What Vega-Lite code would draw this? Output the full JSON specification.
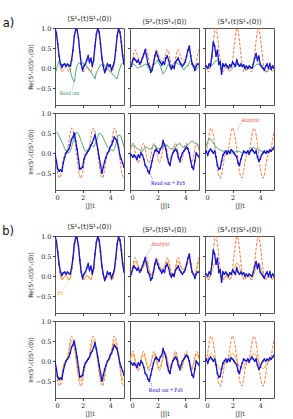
{
"$schema": "https://vega.github.io/schema/vega-lite/v6.json",
"background": "white",
"padding": {"left": 2, "top": 14, "right": 2, "bottom": 2},
"spacing": 12,
"config": {
 "font": "DejaVu Sans",
 "view": {"stroke": "#555", "strokeWidth": 1},
 "axis": {"grid": false, "domain": false, "labelFont": "DejaVu Serif", "labelFontSize": 6.5, "titleFontWeight": "normal", "tickSize": 2.5, "tickColor": "#444", "labelColor": "#222", "titleColor": "#222", "labelPadding": 1.5, "titlePadding": 2, "labelOverlap": false},
 "axisX": {"titleFont": "DejaVu Serif", "titleFontSize": 6.5},
 "axisY": {"titleFont": "DejaVu Sans", "titleFontSize": 6},
 "title": {"fontWeight": "normal", "fontSize": 11.5, "color": "#111"}
},
"datasets": {"d": [
{"r":1,"c":1,"t":0,"a":1,"g":-0.12,"f":0.95,"b":1},
{"r":1,"c":1,"t":0.1,"a":0.885,"g":-0.05,"f":0.84,"b":0.88},
{"r":1,"c":1,"t":0.2,"a":0.59,"g":0.1,"f":0.56,"b":0.6},
{"r":1,"c":1,"t":0.3,"a":0.252,"g":0.18,"f":0.24,"b":0.3},
{"r":1,"c":1,"t":0.4,"a":-0.001,"g":0.12,"f":0,"b":0.1},
{"r":1,"c":1,"t":0.5,"a":-0.098,"g":0.08,"f":-0.09,"b":0.02},
{"r":1,"c":1,"t":0.6,"a":-0.068,"g":0.1,"f":-0.06,"b":0.08},
{"r":1,"c":1,"t":0.7,"a":0.001,"g":0.12,"f":0,"b":0.1},
{"r":1,"c":1,"t":0.8,"a":0.02,"g":0.05,"f":0.02,"b":0.05},
{"r":1,"c":1,"t":0.9,"a":-0.031,"g":0.08,"f":-0.03,"b":0.1},
{"r":1,"c":1,"t":1.0,"a":-0.094,"g":0.02,"f":-0.09,"b":0.07},
{"r":1,"c":1,"t":1.1,"a":-0.069,"g":-0.05,"f":-0.07,"b":0.05},
{"r":1,"c":1,"t":1.2,"a":0.123,"g":-0.2,"f":0.12,"b":0.2},
{"r":1,"c":1,"t":1.3,"a":0.413,"g":-0.28,"f":0.39,"b":0.45},
{"r":1,"c":1,"t":1.4,"a":0.757,"g":-0.35,"f":0.72,"b":0.8},
{"r":1,"c":1,"t":1.5,"a":0.972,"g":-0.1,"f":0.92,"b":0.97},
{"r":1,"c":1,"t":1.6,"a":0.975,"g":0.07,"f":0.93,"b":0.95},
{"r":1,"c":1,"t":1.7,"a":0.754,"g":0.12,"f":0.72,"b":0.75},
{"r":1,"c":1,"t":1.8,"a":0.414,"g":0.13,"f":0.39,"b":0.4},
{"r":1,"c":1,"t":1.9,"a":0.121,"g":0.1,"f":0.11,"b":0.1},
{"r":1,"c":1,"t":2.0,"a":-0.069,"g":0.15,"f":-0.07,"b":-0.05},
{"r":1,"c":1,"t":2.1,"a":-0.094,"g":0.08,"f":-0.09,"b":0.05},
{"r":1,"c":1,"t":2.2,"a":-0.031,"g":0.1,"f":-0.03,"b":0.1},
{"r":1,"c":1,"t":2.3,"a":0.02,"g":0.05,"f":0.02,"b":0.2},
{"r":1,"c":1,"t":2.4,"a":0.001,"g":0,"f":0,"b":0.3},
{"r":1,"c":1,"t":2.5,"a":-0.068,"g":-0.05,"f":-0.06,"b":0.15},
{"r":1,"c":1,"t":2.6,"a":-0.098,"g":-0.1,"f":-0.09,"b":0.25},
{"r":1,"c":1,"t":2.7,"a":-0.001,"g":-0.15,"f":0,"b":0.05},
{"r":1,"c":1,"t":2.8,"a":0.252,"g":-0.2,"f":0.24,"b":0.2},
{"r":1,"c":1,"t":2.9,"a":0.59,"g":-0.27,"f":0.56,"b":0.55},
{"r":1,"c":1,"t":3.0,"a":0.885,"g":-0.1,"f":0.84,"b":0.85},
{"r":1,"c":1,"t":3.1,"a":1,"g":-0.05,"f":0.95,"b":0.98},
{"r":1,"c":1,"t":3.2,"a":0.885,"g":0.02,"f":0.84,"b":0.9},
{"r":1,"c":1,"t":3.3,"a":0.59,"g":0.08,"f":0.56,"b":0.6},
{"r":1,"c":1,"t":3.4,"a":0.252,"g":0.1,"f":0.24,"b":0.25},
{"r":1,"c":1,"t":3.5,"a":-0.001,"g":0.05,"f":0,"b":0.05},
{"r":1,"c":1,"t":3.6,"a":-0.098,"g":0.08,"f":-0.09,"b":-0.1},
{"r":1,"c":1,"t":3.7,"a":-0.068,"g":0,"f":-0.06,"b":-0.02},
{"r":1,"c":1,"t":3.8,"a":0.001,"g":-0.02,"f":0,"b":0.1},
{"r":1,"c":1,"t":3.9,"a":0.02,"g":-0.05,"f":0.02,"b":0.05},
{"r":1,"c":1,"t":4.0,"a":-0.031,"g":-0.1,"f":-0.03,"b":0.08},
{"r":1,"c":1,"t":4.1,"a":-0.094,"g":-0.13,"f":-0.09,"b":-0.05},
{"r":1,"c":1,"t":4.2,"a":-0.069,"g":-0.15,"f":-0.07,"b":0.05},
{"r":1,"c":1,"t":4.3,"a":0.123,"g":-0.2,"f":0.12,"b":0.15},
{"r":1,"c":1,"t":4.4,"a":0.413,"g":-0.25,"f":0.39,"b":0.45},
{"r":1,"c":1,"t":4.5,"a":0.757,"g":-0.27,"f":0.72,"b":0.8},
{"r":1,"c":1,"t":4.6,"a":0.972,"g":-0.12,"f":0.92,"b":0.98},
{"r":1,"c":1,"t":4.7,"a":0.975,"g":0,"f":0.93,"b":0.9},
{"r":1,"c":1,"t":4.8,"a":0.754,"g":0.08,"f":0.72,"b":0.65},
{"r":1,"c":1,"t":4.9,"a":0.414,"g":0.13,"f":0.39,"b":0.3},
{"r":1,"c":1,"t":5.0,"a":0.121,"g":0.12,"f":0.11,"b":0.1},
{"r":1,"c":2,"t":0,"a":0,"g":0.05,"f":0.02,"b":0},
{"r":1,"c":2,"t":0.1,"a":0.06,"g":0.08,"f":0.07,"b":0.05},
{"r":1,"c":2,"t":0.2,"a":0.22,"g":0.1,"f":0.19,"b":0.2},
{"r":1,"c":2,"t":0.3,"a":0.42,"g":0.1,"f":0.34,"b":0.25},
{"r":1,"c":2,"t":0.4,"a":0.46,"g":0.05,"f":0.37,"b":0.2},
{"r":1,"c":2,"t":0.5,"a":0.36,"g":0.02,"f":0.29,"b":0.15},
{"r":1,"c":2,"t":0.6,"a":0.25,"g":0,"f":0.21,"b":0.2},
{"r":1,"c":2,"t":0.7,"a":0.19,"g":0.03,"f":0.16,"b":0.1},
{"r":1,"c":2,"t":0.8,"a":0.18,"g":0.05,"f":0.16,"b":0.15},
{"r":1,"c":2,"t":0.9,"a":0.21,"g":0.05,"f":0.18,"b":0.25},
{"r":1,"c":2,"t":1.0,"a":0.3,"g":0.08,"f":0.25,"b":0.35},
{"r":1,"c":2,"t":1.1,"a":0.42,"g":0.1,"f":0.34,"b":0.45},
{"r":1,"c":2,"t":1.2,"a":0.47,"g":0.1,"f":0.37,"b":0.3},
{"r":1,"c":2,"t":1.3,"a":0.33,"g":0.02,"f":0.27,"b":0.1},
{"r":1,"c":2,"t":1.4,"a":0.13,"g":-0.03,"f":0.12,"b":0.05},
{"r":1,"c":2,"t":1.5,"a":0.02,"g":-0.05,"f":0.04,"b":-0.1},
{"r":1,"c":2,"t":1.6,"a":0.02,"g":0.02,"f":0.04,"b":-0.05},
{"r":1,"c":2,"t":1.7,"a":0.13,"g":0.1,"f":0.12,"b":0.1},
{"r":1,"c":2,"t":1.8,"a":0.33,"g":0.1,"f":0.27,"b":0.3},
{"r":1,"c":2,"t":1.9,"a":0.47,"g":0.15,"f":0.37,"b":0.4},
{"r":1,"c":2,"t":2.0,"a":0.42,"g":0.2,"f":0.34,"b":0.3},
{"r":1,"c":2,"t":2.1,"a":0.3,"g":0.12,"f":0.25,"b":0.2},
{"r":1,"c":2,"t":2.2,"a":0.21,"g":0.05,"f":0.18,"b":0.15},
{"r":1,"c":2,"t":2.3,"a":0.185,"g":-0.05,"f":0.16,"b":0.08},
{"r":1,"c":2,"t":2.4,"a":0.19,"g":-0.15,"f":0.16,"b":0.15},
{"r":1,"c":2,"t":2.5,"a":0.25,"g":-0.1,"f":0.21,"b":0.1},
{"r":1,"c":2,"t":2.6,"a":0.36,"g":-0.05,"f":0.29,"b":0.25},
{"r":1,"c":2,"t":2.7,"a":0.46,"g":0.05,"f":0.37,"b":0.3},
{"r":1,"c":2,"t":2.8,"a":0.42,"g":0.1,"f":0.34,"b":0.2},
{"r":1,"c":2,"t":2.9,"a":0.22,"g":0.08,"f":0.19,"b":0.05},
{"r":1,"c":2,"t":3.0,"a":0.06,"g":0.05,"f":0.07,"b":-0.02},
{"r":1,"c":2,"t":3.1,"a":0,"g":0.1,"f":0.02,"b":0.05},
{"r":1,"c":2,"t":3.2,"a":0.06,"g":0.12,"f":0.07,"b":0},
{"r":1,"c":2,"t":3.3,"a":0.22,"g":0.15,"f":0.19,"b":0.15},
{"r":1,"c":2,"t":3.4,"a":0.42,"g":0.12,"f":0.34,"b":0.2},
{"r":1,"c":2,"t":3.5,"a":0.46,"g":0.1,"f":0.37,"b":0.25},
{"r":1,"c":2,"t":3.6,"a":0.36,"g":0.1,"f":0.29,"b":0.15},
{"r":1,"c":2,"t":3.7,"a":0.25,"g":0.05,"f":0.21,"b":0.1},
{"r":1,"c":2,"t":3.8,"a":0.19,"g":0,"f":0.16,"b":0.05},
{"r":1,"c":2,"t":3.9,"a":0.18,"g":-0.05,"f":0.16,"b":0.1},
{"r":1,"c":2,"t":4.0,"a":0.21,"g":0,"f":0.18,"b":0.15},
{"r":1,"c":2,"t":4.1,"a":0.3,"g":0.05,"f":0.25,"b":0.3},
{"r":1,"c":2,"t":4.2,"a":0.42,"g":0.05,"f":0.34,"b":0.45},
{"r":1,"c":2,"t":4.3,"a":0.47,"g":0.15,"f":0.37,"b":0.55},
{"r":1,"c":2,"t":4.4,"a":0.33,"g":0.2,"f":0.27,"b":0.3},
{"r":1,"c":2,"t":4.5,"a":0.13,"g":0.15,"f":0.12,"b":0.1},
{"r":1,"c":2,"t":4.6,"a":0.02,"g":0.1,"f":0.04,"b":0.05},
{"r":1,"c":2,"t":4.7,"a":0.02,"g":0.02,"f":0.04,"b":-0.05},
{"r":1,"c":2,"t":4.8,"a":0.13,"g":-0.05,"f":0.12,"b":0.05},
{"r":1,"c":2,"t":4.9,"a":0.33,"g":0,"f":0.27,"b":0.1},
{"r":1,"c":2,"t":5.0,"a":0.47,"g":0.05,"f":0.37,"b":0.1},
{"r":1,"c":3,"t":0,"a":0.022,"g":0,"f":-0.01,"b":0.05},
{"r":1,"c":3,"t":0.1,"a":-0.014,"g":0.02,"f":-0.02,"b":0.05},
{"r":1,"c":3,"t":0.2,"a":-0.082,"g":0,"f":-0.05,"b":0},
{"r":1,"c":3,"t":0.3,"a":-0.089,"g":0,"f":-0.05,"b":0.1},
{"r":1,"c":3,"t":0.4,"a":0.048,"g":0.05,"f":0,"b":0.05},
{"r":1,"c":3,"t":0.5,"a":0.332,"g":0.08,"f":0.1,"b":0.3},
{"r":1,"c":3,"t":0.6,"a":0.675,"g":0.1,"f":0.22,"b":0.65},
{"r":1,"c":3,"t":0.7,"a":0.934,"g":0.15,"f":0.31,"b":0.55},
{"r":1,"c":3,"t":0.8,"a":0.993,"g":0.2,"f":0.33,"b":0.3},
{"r":1,"c":3,"t":0.9,"a":0.823,"g":0.18,"f":0.27,"b":0.45},
{"r":1,"c":3,"t":1.0,"a":0.504,"g":0.15,"f":0.16,"b":0.1},
{"r":1,"c":3,"t":1.1,"a":0.174,"g":0.1,"f":0.04,"b":0.15},
{"r":1,"c":3,"t":1.2,"a":-0.041,"g":0.05,"f":-0.03,"b":-0.15},
{"r":1,"c":3,"t":1.3,"a":-0.1,"g":0.05,"f":-0.06,"b":0.1},
{"r":1,"c":3,"t":1.4,"a":-0.05,"g":0.03,"f":-0.04,"b":0.05},
{"r":1,"c":3,"t":1.5,"a":0.013,"g":0.05,"f":-0.02,"b":0.1},
{"r":1,"c":3,"t":1.6,"a":0.012,"g":0.03,"f":-0.02,"b":0.05},
{"r":1,"c":3,"t":1.7,"a":-0.05,"g":0.02,"f":-0.04,"b":0},
{"r":1,"c":3,"t":1.8,"a":-0.1,"g":0,"f":-0.06,"b":0.08},
{"r":1,"c":3,"t":1.9,"a":-0.04,"g":0.02,"f":-0.03,"b":0.05},
{"r":1,"c":3,"t":2.0,"a":0.175,"g":0,"f":0.04,"b":0.15},
{"r":1,"c":3,"t":2.1,"a":0.505,"g":0.03,"f":0.16,"b":0.1},
{"r":1,"c":3,"t":2.2,"a":0.823,"g":0.05,"f":0.27,"b":0.05},
{"r":1,"c":3,"t":2.3,"a":0.993,"g":0.08,"f":0.33,"b":0.2},
{"r":1,"c":3,"t":2.4,"a":0.934,"g":0.1,"f":0.31,"b":0.1},
{"r":1,"c":3,"t":2.5,"a":0.675,"g":0.08,"f":0.22,"b":0.05},
{"r":1,"c":3,"t":2.6,"a":0.332,"g":0.05,"f":0.1,"b":0.1},
{"r":1,"c":3,"t":2.7,"a":0.048,"g":0.05,"f":0,"b":0.05},
{"r":1,"c":3,"t":2.8,"a":-0.089,"g":0.02,"f":-0.05,"b":0.08},
{"r":1,"c":3,"t":2.9,"a":-0.082,"g":-0.02,"f":-0.05,"b":0},
{"r":1,"c":3,"t":3.0,"a":-0.014,"g":-0.05,"f":-0.02,"b":0.05},
{"r":1,"c":3,"t":3.1,"a":0.022,"g":-0.03,"f":-0.01,"b":0},
{"r":1,"c":3,"t":3.2,"a":-0.014,"g":0,"f":-0.02,"b":0.05},
{"r":1,"c":3,"t":3.3,"a":-0.082,"g":0,"f":-0.05,"b":0.02},
{"r":1,"c":3,"t":3.4,"a":-0.089,"g":0.02,"f":-0.05,"b":0},
{"r":1,"c":3,"t":3.5,"a":0.048,"g":0.03,"f":0,"b":0.1},
{"r":1,"c":3,"t":3.6,"a":0.332,"g":0.05,"f":0.1,"b":0.25},
{"r":1,"c":3,"t":3.7,"a":0.675,"g":0.08,"f":0.22,"b":0.35},
{"r":1,"c":3,"t":3.8,"a":0.934,"g":0.1,"f":0.31,"b":0.2},
{"r":1,"c":3,"t":3.9,"a":0.993,"g":0.1,"f":0.33,"b":0.3},
{"r":1,"c":3,"t":4.0,"a":0.823,"g":0.05,"f":0.27,"b":0.1},
{"r":1,"c":3,"t":4.1,"a":0.504,"g":0.02,"f":0.16,"b":0.05},
{"r":1,"c":3,"t":4.2,"a":0.174,"g":-0.02,"f":0.04,"b":0},
{"r":1,"c":3,"t":4.3,"a":-0.041,"g":-0.05,"f":-0.03,"b":-0.05},
{"r":1,"c":3,"t":4.4,"a":-0.1,"g":-0.08,"f":-0.06,"b":0.05},
{"r":1,"c":3,"t":4.5,"a":-0.05,"g":-0.1,"f":-0.04,"b":0.1},
{"r":1,"c":3,"t":4.6,"a":0.013,"g":-0.06,"f":-0.02,"b":0},
{"r":1,"c":3,"t":4.7,"a":0.012,"g":-0.03,"f":-0.02,"b":0.1},
{"r":1,"c":3,"t":4.8,"a":-0.05,"g":0,"f":-0.04,"b":-0.02},
{"r":1,"c":3,"t":4.9,"a":-0.1,"g":0,"f":-0.06,"b":0.05},
{"r":1,"c":3,"t":5.0,"a":-0.04,"g":0,"f":-0.03,"b":0},
{"r":2,"c":1,"t":0,"a":0,"g":0.55,"f":0,"b":0},
{"r":2,"c":1,"t":0.1,"a":-0.3,"g":0.53,"f":-0.24,"b":-0.2},
{"r":2,"c":1,"t":0.2,"a":-0.52,"g":0.5,"f":-0.42,"b":-0.4},
{"r":2,"c":1,"t":0.3,"a":-0.62,"g":0.42,"f":-0.5,"b":-0.45},
{"r":2,"c":1,"t":0.4,"a":-0.6,"g":0.35,"f":-0.48,"b":-0.42},
{"r":2,"c":1,"t":0.5,"a":-0.4,"g":0.28,"f":-0.32,"b":-0.45},
{"r":2,"c":1,"t":0.6,"a":-0.15,"g":0.2,"f":-0.12,"b":-0.25},
{"r":2,"c":1,"t":0.7,"a":-0.03,"g":0.12,"f":-0.02,"b":-0.1},
{"r":2,"c":1,"t":0.8,"a":0.015,"g":0.05,"f":0.01,"b":0},
{"r":2,"c":1,"t":0.9,"a":0.09,"g":0.02,"f":0.07,"b":0.05},
{"r":2,"c":1,"t":1.0,"a":0.27,"g":0,"f":0.22,"b":0.1},
{"r":2,"c":1,"t":1.1,"a":0.5,"g":0.05,"f":0.4,"b":0.2},
{"r":2,"c":1,"t":1.2,"a":0.63,"g":0.15,"f":0.5,"b":0.35},
{"r":2,"c":1,"t":1.3,"a":0.58,"g":0.28,"f":0.46,"b":0.4},
{"r":2,"c":1,"t":1.4,"a":0.42,"g":0.4,"f":0.34,"b":0.5},
{"r":2,"c":1,"t":1.5,"a":0.15,"g":0.5,"f":0.12,"b":0.3},
{"r":2,"c":1,"t":1.6,"a":-0.15,"g":0.52,"f":-0.12,"b":0.1},
{"r":2,"c":1,"t":1.7,"a":-0.42,"g":0.48,"f":-0.34,"b":-0.15},
{"r":2,"c":1,"t":1.8,"a":-0.58,"g":0.4,"f":-0.46,"b":-0.4},
{"r":2,"c":1,"t":1.9,"a":-0.63,"g":0.3,"f":-0.5,"b":-0.38},
{"r":2,"c":1,"t":2.0,"a":-0.5,"g":0.2,"f":-0.4,"b":-0.35},
{"r":2,"c":1,"t":2.1,"a":-0.27,"g":0.1,"f":-0.22,"b":-0.15},
{"r":2,"c":1,"t":2.2,"a":-0.09,"g":0.05,"f":-0.07,"b":-0.05},
{"r":2,"c":1,"t":2.3,"a":-0.015,"g":0.05,"f":-0.01,"b":0},
{"r":2,"c":1,"t":2.4,"a":0.03,"g":0.1,"f":0.02,"b":0.05},
{"r":2,"c":1,"t":2.5,"a":0.15,"g":0.15,"f":0.12,"b":0.1},
{"r":2,"c":1,"t":2.6,"a":0.4,"g":0.2,"f":0.32,"b":0.2},
{"r":2,"c":1,"t":2.7,"a":0.6,"g":0.18,"f":0.48,"b":0.25},
{"r":2,"c":1,"t":2.8,"a":0.62,"g":0.15,"f":0.5,"b":0.35},
{"r":2,"c":1,"t":2.9,"a":0.52,"g":0.22,"f":0.42,"b":0.45},
{"r":2,"c":1,"t":3.0,"a":0.3,"g":0.3,"f":0.24,"b":0.3},
{"r":2,"c":1,"t":3.1,"a":0,"g":0.4,"f":0,"b":0.1},
{"r":2,"c":1,"t":3.2,"a":-0.3,"g":0.5,"f":-0.24,"b":-0.1},
{"r":2,"c":1,"t":3.3,"a":-0.52,"g":0.48,"f":-0.42,"b":-0.3},
{"r":2,"c":1,"t":3.4,"a":-0.62,"g":0.45,"f":-0.5,"b":-0.5},
{"r":2,"c":1,"t":3.5,"a":-0.6,"g":0.38,"f":-0.48,"b":-0.35},
{"r":2,"c":1,"t":3.6,"a":-0.4,"g":0.3,"f":-0.32,"b":-0.2},
{"r":2,"c":1,"t":3.7,"a":-0.15,"g":0.22,"f":-0.12,"b":-0.1},
{"r":2,"c":1,"t":3.8,"a":-0.03,"g":0.15,"f":-0.02,"b":0},
{"r":2,"c":1,"t":3.9,"a":0.015,"g":0.12,"f":0.01,"b":0.05},
{"r":2,"c":1,"t":4.0,"a":0.09,"g":0.1,"f":0.07,"b":0.15},
{"r":2,"c":1,"t":4.1,"a":0.27,"g":0.08,"f":0.22,"b":0.2},
{"r":2,"c":1,"t":4.2,"a":0.5,"g":0.05,"f":0.4,"b":0.3},
{"r":2,"c":1,"t":4.3,"a":0.63,"g":0.1,"f":0.5,"b":0.4},
{"r":2,"c":1,"t":4.4,"a":0.58,"g":0.2,"f":0.46,"b":0.35},
{"r":2,"c":1,"t":4.5,"a":0.42,"g":0.35,"f":0.34,"b":0.3},
{"r":2,"c":1,"t":4.6,"a":0.15,"g":0.45,"f":0.12,"b":0.15},
{"r":2,"c":1,"t":4.7,"a":-0.15,"g":0.45,"f":-0.12,"b":-0.05},
{"r":2,"c":1,"t":4.8,"a":-0.42,"g":0.4,"f":-0.34,"b":-0.15},
{"r":2,"c":1,"t":4.9,"a":-0.58,"g":0.28,"f":-0.46,"b":-0.25},
{"r":2,"c":1,"t":5.0,"a":-0.63,"g":0.15,"f":-0.5,"b":-0.35},
{"r":2,"c":2,"t":0,"a":0,"g":0.15,"f":0,"b":0},
{"r":2,"c":2,"t":0.1,"a":0.181,"g":0.18,"f":0.13,"b":-0.05},
{"r":2,"c":2,"t":0.2,"a":0.25,"g":0.2,"f":0.18,"b":-0.1},
{"r":2,"c":2,"t":0.3,"a":0.163,"g":0.2,"f":0.11,"b":-0.05},
{"r":2,"c":2,"t":0.4,"a":-0.025,"g":0.15,"f":-0.02,"b":-0.1},
{"r":2,"c":2,"t":0.5,"a":-0.197,"g":0.12,"f":-0.14,"b":-0.15},
{"r":2,"c":2,"t":0.6,"a":-0.247,"g":0.1,"f":-0.17,"b":-0.05},
{"r":2,"c":2,"t":0.7,"a":-0.143,"g":0.08,"f":-0.1,"b":-0.1},
{"r":2,"c":2,"t":0.8,"a":0.05,"g":0.05,"f":0.04,"b":0},
{"r":2,"c":2,"t":0.9,"a":0.212,"g":0.05,"f":0.15,"b":-0.05},
{"r":2,"c":2,"t":1.0,"a":0.242,"g":0.1,"f":0.17,"b":-0.15},
{"r":2,"c":2,"t":1.1,"a":0.121,"g":0.12,"f":0.08,"b":-0.3},
{"r":2,"c":2,"t":1.2,"a":-0.075,"g":0.15,"f":-0.05,"b":-0.35},
{"r":2,"c":2,"t":1.3,"a":-0.225,"g":0.12,"f":-0.16,"b":-0.45},
{"r":2,"c":2,"t":1.4,"a":-0.235,"g":0.1,"f":-0.16,"b":-0.5},
{"r":2,"c":2,"t":1.5,"a":-0.098,"g":0.1,"f":-0.07,"b":-0.35},
{"r":2,"c":2,"t":1.6,"a":0.099,"g":0.15,"f":0.07,"b":-0.2},
{"r":2,"c":2,"t":1.7,"a":0.235,"g":0.18,"f":0.16,"b":-0.05},
{"r":2,"c":2,"t":1.8,"a":0.224,"g":0.2,"f":0.16,"b":0.05},
{"r":2,"c":2,"t":1.9,"a":0.075,"g":0.15,"f":0.05,"b":0.1},
{"r":2,"c":2,"t":2.0,"a":-0.122,"g":0.12,"f":-0.09,"b":0.05},
{"r":2,"c":2,"t":2.1,"a":-0.242,"g":0.1,"f":-0.17,"b":0},
{"r":2,"c":2,"t":2.2,"a":-0.212,"g":0.12,"f":-0.15,"b":0.1},
{"r":2,"c":2,"t":2.3,"a":-0.05,"g":0.15,"f":-0.04,"b":0.15},
{"r":2,"c":2,"t":2.4,"a":0.143,"g":0.15,"f":0.1,"b":0.3},
{"r":2,"c":2,"t":2.5,"a":0.247,"g":0.18,"f":0.17,"b":0.2},
{"r":2,"c":2,"t":2.6,"a":0.197,"g":0.2,"f":0.14,"b":0.1},
{"r":2,"c":2,"t":2.7,"a":0.025,"g":0.2,"f":0.02,"b":-0.1},
{"r":2,"c":2,"t":2.8,"a":-0.163,"g":0.15,"f":-0.11,"b":-0.25},
{"r":2,"c":2,"t":2.9,"a":-0.25,"g":0.12,"f":-0.18,"b":-0.3},
{"r":2,"c":2,"t":3.0,"a":-0.181,"g":0.1,"f":-0.13,"b":-0.1},
{"r":2,"c":2,"t":3.1,"a":0,"g":0.12,"f":0,"b":0},
{"r":2,"c":2,"t":3.2,"a":0.181,"g":0.15,"f":0.13,"b":0.05},
{"r":2,"c":2,"t":3.3,"a":0.25,"g":0.15,"f":0.18,"b":0.1},
{"r":2,"c":2,"t":3.4,"a":0.163,"g":0.2,"f":0.11,"b":0.05},
{"r":2,"c":2,"t":3.5,"a":-0.025,"g":0.22,"f":-0.02,"b":-0.1},
{"r":2,"c":2,"t":3.6,"a":-0.197,"g":0.25,"f":-0.14,"b":-0.2},
{"r":2,"c":2,"t":3.7,"a":-0.247,"g":0.2,"f":-0.17,"b":-0.1},
{"r":2,"c":2,"t":3.8,"a":-0.143,"g":0.15,"f":-0.1,"b":0},
{"r":2,"c":2,"t":3.9,"a":0.05,"g":0.15,"f":0.04,"b":0.05},
{"r":2,"c":2,"t":4.0,"a":0.212,"g":0.18,"f":0.15,"b":0.1},
{"r":2,"c":2,"t":4.1,"a":0.242,"g":0.2,"f":0.17,"b":0.15},
{"r":2,"c":2,"t":4.2,"a":0.121,"g":0.2,"f":0.08,"b":0.1},
{"r":2,"c":2,"t":4.3,"a":-0.075,"g":0.25,"f":-0.05,"b":0},
{"r":2,"c":2,"t":4.4,"a":-0.225,"g":0.28,"f":-0.16,"b":-0.2},
{"r":2,"c":2,"t":4.5,"a":-0.235,"g":0.3,"f":-0.16,"b":-0.35},
{"r":2,"c":2,"t":4.6,"a":-0.098,"g":0.28,"f":-0.07,"b":-0.4},
{"r":2,"c":2,"t":4.7,"a":0.099,"g":0.25,"f":0.07,"b":-0.2},
{"r":2,"c":2,"t":4.8,"a":0.235,"g":0.25,"f":0.16,"b":0},
{"r":2,"c":2,"t":4.9,"a":0.224,"g":0.2,"f":0.16,"b":-0.05},
{"r":2,"c":2,"t":5.0,"a":0.075,"g":0.15,"f":0.05,"b":-0.1},
{"r":2,"c":3,"t":0,"a":0,"g":0.1,"f":0,"b":0},
{"r":2,"c":3,"t":0.1,"a":0.06,"g":0.2,"f":0.02,"b":0.05},
{"r":2,"c":3,"t":0.2,"a":0.21,"g":0.3,"f":0.06,"b":-0.05},
{"r":2,"c":3,"t":0.3,"a":0.45,"g":0.35,"f":0.14,"b":0.05},
{"r":2,"c":3,"t":0.4,"a":0.62,"g":0.35,"f":0.19,"b":0.1},
{"r":2,"c":3,"t":0.5,"a":0.6,"g":0.3,"f":0.18,"b":0.05},
{"r":2,"c":3,"t":0.6,"a":0.47,"g":0.25,"f":0.14,"b":0},
{"r":2,"c":3,"t":0.7,"a":0.22,"g":0.2,"f":0.07,"b":0.05},
{"r":2,"c":3,"t":0.8,"a":-0.08,"g":0.15,"f":-0.02,"b":-0.1},
{"r":2,"c":3,"t":0.9,"a":-0.36,"g":0.12,"f":-0.11,"b":-0.3},
{"r":2,"c":3,"t":1.0,"a":-0.55,"g":0.1,"f":-0.17,"b":-0.4},
{"r":2,"c":3,"t":1.1,"a":-0.63,"g":0.08,"f":-0.19,"b":-0.38},
{"r":2,"c":3,"t":1.2,"a":-0.55,"g":0.06,"f":-0.17,"b":-0.2},
{"r":2,"c":3,"t":1.3,"a":-0.33,"g":0.05,"f":-0.1,"b":-0.05},
{"r":2,"c":3,"t":1.4,"a":-0.12,"g":0.05,"f":-0.04,"b":0},
{"r":2,"c":3,"t":1.5,"a":-0.02,"g":0.05,"f":-0.01,"b":0.05},
{"r":2,"c":3,"t":1.6,"a":0.02,"g":0.05,"f":0.01,"b":-0.02},
{"r":2,"c":3,"t":1.7,"a":0.12,"g":0.04,"f":0.04,"b":0.05},
{"r":2,"c":3,"t":1.8,"a":0.33,"g":0.02,"f":0.1,"b":0},
{"r":2,"c":3,"t":1.9,"a":0.55,"g":0,"f":0.17,"b":0.08},
{"r":2,"c":3,"t":2.0,"a":0.63,"g":0,"f":0.19,"b":0.05},
{"r":2,"c":3,"t":2.1,"a":0.55,"g":0.02,"f":0.17,"b":0},
{"r":2,"c":3,"t":2.2,"a":0.36,"g":0.03,"f":0.11,"b":-0.05},
{"r":2,"c":3,"t":2.3,"a":0.08,"g":0.05,"f":0.02,"b":-0.1},
{"r":2,"c":3,"t":2.4,"a":-0.22,"g":0.05,"f":-0.07,"b":-0.25},
{"r":2,"c":3,"t":2.5,"a":-0.47,"g":0.04,"f":-0.14,"b":-0.3},
{"r":2,"c":3,"t":2.6,"a":-0.6,"g":0.02,"f":-0.18,"b":-0.15},
{"r":2,"c":3,"t":2.7,"a":-0.62,"g":0,"f":-0.19,"b":-0.05},
{"r":2,"c":3,"t":2.8,"a":-0.45,"g":0,"f":-0.14,"b":0.05},
{"r":2,"c":3,"t":2.9,"a":-0.21,"g":0.02,"f":-0.06,"b":0.02},
{"r":2,"c":3,"t":3.0,"a":-0.06,"g":0.03,"f":-0.02,"b":0},
{"r":2,"c":3,"t":3.1,"a":0,"g":0.05,"f":0,"b":0.05},
{"r":2,"c":3,"t":3.2,"a":0.06,"g":0.05,"f":0.02,"b":-0.02},
{"r":2,"c":3,"t":3.3,"a":0.21,"g":0.08,"f":0.06,"b":0.05},
{"r":2,"c":3,"t":3.4,"a":0.45,"g":0.12,"f":0.14,"b":0.1},
{"r":2,"c":3,"t":3.5,"a":0.62,"g":0.15,"f":0.19,"b":0.05},
{"r":2,"c":3,"t":3.6,"a":0.6,"g":0.12,"f":0.18,"b":0},
{"r":2,"c":3,"t":3.7,"a":0.47,"g":0.1,"f":0.14,"b":0.05},
{"r":2,"c":3,"t":3.8,"a":0.22,"g":0.1,"f":0.07,"b":-0.1},
{"r":2,"c":3,"t":3.9,"a":-0.08,"g":0.08,"f":-0.02,"b":-0.2},
{"r":2,"c":3,"t":4.0,"a":-0.36,"g":0.06,"f":-0.11,"b":-0.15},
{"r":2,"c":3,"t":4.1,"a":-0.55,"g":0.05,"f":-0.17,"b":-0.05},
{"r":2,"c":3,"t":4.2,"a":-0.63,"g":0.03,"f":-0.19,"b":0},
{"r":2,"c":3,"t":4.3,"a":-0.55,"g":0.02,"f":-0.17,"b":0.05},
{"r":2,"c":3,"t":4.4,"a":-0.33,"g":0,"f":-0.1,"b":0},
{"r":2,"c":3,"t":4.5,"a":-0.12,"g":0,"f":-0.04,"b":0.05},
{"r":2,"c":3,"t":4.6,"a":-0.02,"g":0.02,"f":-0.01,"b":0.02},
{"r":2,"c":3,"t":4.7,"a":0.02,"g":0.05,"f":0.01,"b":0.08},
{"r":2,"c":3,"t":4.8,"a":0.12,"g":0.06,"f":0.04,"b":0.05},
{"r":2,"c":3,"t":4.9,"a":0.33,"g":0.08,"f":0.1,"b":0.1},
{"r":2,"c":3,"t":5.0,"a":0.55,"g":0.1,"f":0.17,"b":0.15},
{"grp":"A","r":1,"c":1,"t":1.05,"v":-0.62,"lab":"Read out","k":"g"},
{"grp":"A","r":1,"c":1,"t":1.25,"v":-0.53,"ar":1,"k":"g"},
{"grp":"A","r":1,"c":1,"t":1.37,"v":-0.37,"ar":1,"k":"g"},
{"grp":"A","r":2,"c":3,"t":3.3,"v":0.83,"lab":"Analytic","k":"ar"},
{"grp":"A","r":2,"c":3,"t":2.65,"v":0.76,"ar":1,"k":"ar"},
{"grp":"A","r":2,"c":3,"t":2.35,"v":0.6,"ar":1,"k":"ar"},
{"grp":"A","r":2,"c":2,"t":2.75,"v":-0.74,"lab":"Read out + PaS","k":"b"},
{"grp":"A","r":2,"c":2,"t":1.65,"v":-0.66,"ar":1,"k":"b"},
{"grp":"A","r":2,"c":2,"t":1.46,"v":-0.52,"ar":1,"k":"b"},
{"grp":"B","r":1,"c":1,"t":0.4,"v":-0.41,"lab":"Fit","k":"f"},
{"grp":"B","r":1,"c":1,"t":0.62,"v":-0.33,"ar":1,"k":"f"},
{"grp":"B","r":1,"c":1,"t":1.0,"v":-0.15,"ar":1,"k":"f"},
{"grp":"B","r":1,"c":2,"t":2.2,"v":0.8,"lab":"Analytic","k":"ar"},
{"grp":"B","r":1,"c":2,"t":1.55,"v":0.72,"ar":1,"k":"ar"},
{"grp":"B","r":1,"c":2,"t":1.18,"v":0.5,"ar":1,"k":"ar"},
{"grp":"B","r":2,"c":2,"t":2.6,"v":-0.73,"lab":"Read out + PaS","k":"b"},
{"grp":"B","r":2,"c":2,"t":1.6,"v":-0.64,"ar":1,"k":"b"},
{"grp":"B","r":2,"c":2,"t":1.46,"v":-0.5,"ar":1,"k":"b"}
]},
"vconcat": [
{
 "title": {"text": "a)", "orient": "left", "anchor": "end", "angle": 0, "align": "right", "baseline": "top", "frame": "bounds", "offset": 1, "dy": 3},
 "spacing": 0,
 "vconcat": [
  {"spacing": 1, "hconcat": [
   {"width": 69, "height": 77, "title": {"text": "⟨S¹ₓ(t)S¹ₓ(0)⟩", "fontSize": 7, "offset": 3, "color": "#222"},
    "data": {"name": "d"}, "transform": [{"filter": "datum.r == 1 && datum.c == 1"}],
    "encoding": {"x": {"field": "t", "type": "quantitative", "scale": {"domain": [0, 5], "nice": false}, "axis": {"values": [0, 2, 4], "labels": false, "title": null}},
                 "y": {"field": "v", "type": "quantitative", "scale": {"domain": [-0.92, 1], "nice": false}, "axis": {"values": [-0.5, 0, 0.5, 1], "format": ".1f", "title": "Re⟨S¹ₓ(t)S¹ₓ(0)⟩"}}},
    "layer": [
     {"transform": [{"filter": "datum.lab == null && datum.ar == null"}, {"fold": ["a", "g"], "as": ["s", "v"]}, {"filter": "isValid(datum.v)"}], "mark": {"type": "line", "strokeWidth": 1, "clip": true}, "encoding": {"color": {"field": "s", "type": "nominal", "scale": {"domain": ["a", "g", "f", "b", "ar"], "range": ["#f77b45", "#3f9c5f", "#f5a42a", "#1414d2", "#f24b4b"]}, "legend": null}, "strokeDash": {"field": "s", "type": "nominal", "scale": {"domain": ["a", "g", "f"], "range": [[3, 1.5], [1, 0], [1, 0]]}, "legend": null}}},
     {"transform": [{"filter": "datum.lab == null && datum.ar == null"}, {"fold": ["b"], "as": ["s", "v"]}], "mark": {"type": "line", "strokeWidth": 1.3, "clip": true, "point": {"size": 3, "filled": true}}, "encoding": {"color": {"field": "s", "type": "nominal", "scale": {"domain": ["a", "g", "f", "b", "ar"], "range": ["#f77b45", "#3f9c5f", "#f5a42a", "#1414d2", "#f24b4b"]}, "legend": null}}},
     {"transform": [{"filter": "datum.ar == 1 && datum.grp == 'A'"}], "mark": {"type": "line", "strokeWidth": 0.6, "strokeDash": [1, 1]}, "encoding": {"color": {"field": "k", "type": "nominal", "scale": {"domain": ["a", "g", "f", "b", "ar"], "range": ["#f77b45", "#3f9c5f", "#f5a42a", "#1414d2", "#f24b4b"]}, "legend": null}}},
     {"transform": [{"filter": "datum.lab != null && datum.grp == 'A'"}], "mark": {"type": "text", "font": "Liberation Serif", "fontSize": 5.5}, "encoding": {"text": {"field": "lab", "type": "nominal"}, "color": {"field": "k", "type": "nominal", "scale": {"domain": ["a", "g", "f", "b", "ar"], "range": ["#f77b45", "#3f9c5f", "#f5a42a", "#1414d2", "#f24b4b"]}, "legend": null}}}
    ]},
   {"width": 69, "height": 77, "title": {"text": "⟨S²ₓ(t)S¹ₓ(0)⟩", "fontSize": 7, "offset": 3, "color": "#222"},
    "data": {"name": "d"}, "transform": [{"filter": "datum.r == 1 && datum.c == 2"}],
    "encoding": {"x": {"field": "t", "type": "quantitative", "scale": {"domain": [0, 5], "nice": false}, "axis": {"values": [0, 2, 4], "labels": false, "title": null}},
                 "y": {"field": "v", "type": "quantitative", "scale": {"domain": [-0.92, 1], "nice": false}, "axis": {"values": [-0.5, 0, 0.5, 1], "labels": false, "title": null}}},
    "layer": [
     {"transform": [{"filter": "datum.lab == null && datum.ar == null"}, {"fold": ["a", "g"], "as": ["s", "v"]}, {"filter": "isValid(datum.v)"}], "mark": {"type": "line", "strokeWidth": 1, "clip": true}, "encoding": {"color": {"field": "s", "type": "nominal", "scale": {"domain": ["a", "g", "f", "b", "ar"], "range": ["#f77b45", "#3f9c5f", "#f5a42a", "#1414d2", "#f24b4b"]}, "legend": null}, "strokeDash": {"field": "s", "type": "nominal", "scale": {"domain": ["a", "g", "f"], "range": [[3, 1.5], [1, 0], [1, 0]]}, "legend": null}}},
     {"transform": [{"filter": "datum.lab == null && datum.ar == null"}, {"fold": ["b"], "as": ["s", "v"]}], "mark": {"type": "line", "strokeWidth": 1.3, "clip": true, "point": {"size": 3, "filled": true}}, "encoding": {"color": {"field": "s", "type": "nominal", "scale": {"domain": ["a", "g", "f", "b", "ar"], "range": ["#f77b45", "#3f9c5f", "#f5a42a", "#1414d2", "#f24b4b"]}, "legend": null}}}
    ]},
   {"width": 69, "height": 77, "title": {"text": "⟨S³ₓ(t)S¹ₓ(0)⟩", "fontSize": 7, "offset": 3, "color": "#222"},
    "data": {"name": "d"}, "transform": [{"filter": "datum.r == 1 && datum.c == 3"}],
    "encoding": {"x": {"field": "t", "type": "quantitative", "scale": {"domain": [0, 5], "nice": false}, "axis": {"values": [0, 2, 4], "labels": false, "title": null}},
                 "y": {"field": "v", "type": "quantitative", "scale": {"domain": [-0.92, 1], "nice": false}, "axis": {"values": [-0.5, 0, 0.5, 1], "labels": false, "title": null}}},
    "layer": [
     {"transform": [{"filter": "datum.lab == null && datum.ar == null"}, {"fold": ["a", "g"], "as": ["s", "v"]}, {"filter": "isValid(datum.v)"}], "mark": {"type": "line", "strokeWidth": 1, "clip": true}, "encoding": {"color": {"field": "s", "type": "nominal", "scale": {"domain": ["a", "g", "f", "b", "ar"], "range": ["#f77b45", "#3f9c5f", "#f5a42a", "#1414d2", "#f24b4b"]}, "legend": null}, "strokeDash": {"field": "s", "type": "nominal", "scale": {"domain": ["a", "g", "f"], "range": [[3, 1.5], [1, 0], [1, 0]]}, "legend": null}}},
     {"transform": [{"filter": "datum.lab == null && datum.ar == null"}, {"fold": ["b"], "as": ["s", "v"]}], "mark": {"type": "line", "strokeWidth": 1.3, "clip": true, "point": {"size": 3, "filled": true}}, "encoding": {"color": {"field": "s", "type": "nominal", "scale": {"domain": ["a", "g", "f", "b", "ar"], "range": ["#f77b45", "#3f9c5f", "#f5a42a", "#1414d2", "#f24b4b"]}, "legend": null}}}
    ]}
  ]},
  {"spacing": 1, "hconcat": [
   {"width": 69, "height": 77,
    "data": {"name": "d"}, "transform": [{"filter": "datum.r == 2 && datum.c == 1"}],
    "encoding": {"x": {"field": "t", "type": "quantitative", "scale": {"domain": [0, 5], "nice": false}, "axis": {"values": [0, 2, 4], "title": "|J|t"}},
                 "y": {"field": "v", "type": "quantitative", "scale": {"domain": [-0.92, 1], "nice": false}, "axis": {"values": [-0.5, 0, 0.5, 1], "format": ".1f", "title": "Im⟨S¹ₓ(t)S¹ₓ(0)⟩"}}},
    "layer": [
     {"transform": [{"filter": "datum.lab == null && datum.ar == null"}, {"fold": ["a", "g"], "as": ["s", "v"]}, {"filter": "isValid(datum.v)"}], "mark": {"type": "line", "strokeWidth": 1, "clip": true}, "encoding": {"color": {"field": "s", "type": "nominal", "scale": {"domain": ["a", "g", "f", "b", "ar"], "range": ["#f77b45", "#3f9c5f", "#f5a42a", "#1414d2", "#f24b4b"]}, "legend": null}, "strokeDash": {"field": "s", "type": "nominal", "scale": {"domain": ["a", "g", "f"], "range": [[3, 1.5], [1, 0], [1, 0]]}, "legend": null}}},
     {"transform": [{"filter": "datum.lab == null && datum.ar == null"}, {"fold": ["b"], "as": ["s", "v"]}], "mark": {"type": "line", "strokeWidth": 1.3, "clip": true, "point": {"size": 3, "filled": true}}, "encoding": {"color": {"field": "s", "type": "nominal", "scale": {"domain": ["a", "g", "f", "b", "ar"], "range": ["#f77b45", "#3f9c5f", "#f5a42a", "#1414d2", "#f24b4b"]}, "legend": null}}}
    ]},
   {"width": 69, "height": 77,
    "data": {"name": "d"}, "transform": [{"filter": "datum.r == 2 && datum.c == 2"}],
    "encoding": {"x": {"field": "t", "type": "quantitative", "scale": {"domain": [0, 5], "nice": false}, "axis": {"values": [0, 2, 4], "title": "|J|t"}},
                 "y": {"field": "v", "type": "quantitative", "scale": {"domain": [-0.92, 1], "nice": false}, "axis": {"values": [-0.5, 0, 0.5, 1], "labels": false, "title": null}}},
    "layer": [
     {"transform": [{"filter": "datum.lab == null && datum.ar == null"}, {"fold": ["a", "g"], "as": ["s", "v"]}, {"filter": "isValid(datum.v)"}], "mark": {"type": "line", "strokeWidth": 1, "clip": true}, "encoding": {"color": {"field": "s", "type": "nominal", "scale": {"domain": ["a", "g", "f", "b", "ar"], "range": ["#f77b45", "#3f9c5f", "#f5a42a", "#1414d2", "#f24b4b"]}, "legend": null}, "strokeDash": {"field": "s", "type": "nominal", "scale": {"domain": ["a", "g", "f"], "range": [[3, 1.5], [1, 0], [1, 0]]}, "legend": null}}},
     {"transform": [{"filter": "datum.lab == null && datum.ar == null"}, {"fold": ["b"], "as": ["s", "v"]}], "mark": {"type": "line", "strokeWidth": 1.3, "clip": true, "point": {"size": 3, "filled": true}}, "encoding": {"color": {"field": "s", "type": "nominal", "scale": {"domain": ["a", "g", "f", "b", "ar"], "range": ["#f77b45", "#3f9c5f", "#f5a42a", "#1414d2", "#f24b4b"]}, "legend": null}}},
     {"transform": [{"filter": "datum.ar == 1 && datum.grp == 'A'"}], "mark": {"type": "line", "strokeWidth": 0.6, "strokeDash": [1, 1]}, "encoding": {"color": {"field": "k", "type": "nominal", "scale": {"domain": ["a", "g", "f", "b", "ar"], "range": ["#f77b45", "#3f9c5f", "#f5a42a", "#1414d2", "#f24b4b"]}, "legend": null}}},
     {"transform": [{"filter": "datum.lab != null && datum.grp == 'A'"}], "mark": {"type": "text", "font": "Liberation Serif", "fontSize": 5.5}, "encoding": {"text": {"field": "lab", "type": "nominal"}, "color": {"field": "k", "type": "nominal", "scale": {"domain": ["a", "g", "f", "b", "ar"], "range": ["#f77b45", "#3f9c5f", "#f5a42a", "#1414d2", "#f24b4b"]}, "legend": null}}}
    ]},
   {"width": 69, "height": 77,
    "data": {"name": "d"}, "transform": [{"filter": "datum.r == 2 && datum.c == 3"}],
    "encoding": {"x": {"field": "t", "type": "quantitative", "scale": {"domain": [0, 5], "nice": false}, "axis": {"values": [0, 2, 4], "title": "|J|t"}},
                 "y": {"field": "v", "type": "quantitative", "scale": {"domain": [-0.92, 1], "nice": false}, "axis": {"values": [-0.5, 0, 0.5, 1], "labels": false, "title": null}}},
    "layer": [
     {"transform": [{"filter": "datum.lab == null && datum.ar == null"}, {"fold": ["a", "g"], "as": ["s", "v"]}, {"filter": "isValid(datum.v)"}], "mark": {"type": "line", "strokeWidth": 1, "clip": true}, "encoding": {"color": {"field": "s", "type": "nominal", "scale": {"domain": ["a", "g", "f", "b", "ar"], "range": ["#f77b45", "#3f9c5f", "#f5a42a", "#1414d2", "#f24b4b"]}, "legend": null}, "strokeDash": {"field": "s", "type": "nominal", "scale": {"domain": ["a", "g", "f"], "range": [[3, 1.5], [1, 0], [1, 0]]}, "legend": null}}},
     {"transform": [{"filter": "datum.lab == null && datum.ar == null"}, {"fold": ["b"], "as": ["s", "v"]}], "mark": {"type": "line", "strokeWidth": 1.3, "clip": true, "point": {"size": 3, "filled": true}}, "encoding": {"color": {"field": "s", "type": "nominal", "scale": {"domain": ["a", "g", "f", "b", "ar"], "range": ["#f77b45", "#3f9c5f", "#f5a42a", "#1414d2", "#f24b4b"]}, "legend": null}}},
     {"transform": [{"filter": "datum.ar == 1 && datum.grp == 'A'"}], "mark": {"type": "line", "strokeWidth": 0.6, "strokeDash": [1, 1]}, "encoding": {"color": {"field": "k", "type": "nominal", "scale": {"domain": ["a", "g", "f", "b", "ar"], "range": ["#f77b45", "#3f9c5f", "#f5a42a", "#1414d2", "#f24b4b"]}, "legend": null}}},
     {"transform": [{"filter": "datum.lab != null && datum.grp == 'A'"}], "mark": {"type": "text", "font": "Liberation Serif", "fontSize": 5.5}, "encoding": {"text": {"field": "lab", "type": "nominal"}, "color": {"field": "k", "type": "nominal", "scale": {"domain": ["a", "g", "f", "b", "ar"], "range": ["#f77b45", "#3f9c5f", "#f5a42a", "#1414d2", "#f24b4b"]}, "legend": null}}}
    ]}
  ]}
 ]
},
{
 "title": {"text": "b)", "orient": "left", "anchor": "end", "angle": 0, "align": "right", "baseline": "top", "frame": "bounds", "offset": 1, "dy": 3},
 "spacing": 0,
 "vconcat": [
  {"spacing": 1, "hconcat": [
   {"width": 69, "height": 77, "title": {"text": "⟨S¹ₓ(t)S¹ₓ(0)⟩", "fontSize": 7, "offset": 3, "color": "#222"},
    "data": {"name": "d"}, "transform": [{"filter": "datum.r == 1 && datum.c == 1"}],
    "encoding": {"x": {"field": "t", "type": "quantitative", "scale": {"domain": [0, 5], "nice": false}, "axis": {"values": [0, 2, 4], "labels": false, "title": null}},
                 "y": {"field": "v", "type": "quantitative", "scale": {"domain": [-0.92, 1], "nice": false}, "axis": {"values": [-0.5, 0, 0.5, 1], "format": ".1f", "title": "Re⟨S¹ₓ(t)S¹ₓ(0)⟩"}}},
    "layer": [
     {"transform": [{"filter": "datum.lab == null && datum.ar == null"}, {"fold": ["a", "f"], "as": ["s", "v"]}, {"filter": "isValid(datum.v)"}], "mark": {"type": "line", "strokeWidth": 1, "clip": true}, "encoding": {"color": {"field": "s", "type": "nominal", "scale": {"domain": ["a", "g", "f", "b", "ar"], "range": ["#f77b45", "#3f9c5f", "#f5a42a", "#1414d2", "#f24b4b"]}, "legend": null}, "strokeDash": {"field": "s", "type": "nominal", "scale": {"domain": ["a", "g", "f"], "range": [[3, 1.5], [1, 0], [1, 0]]}, "legend": null}}},
     {"transform": [{"filter": "datum.lab == null && datum.ar == null"}, {"fold": ["b"], "as": ["s", "v"]}], "mark": {"type": "line", "strokeWidth": 1.3, "clip": true, "point": {"size": 3, "filled": true}}, "encoding": {"color": {"field": "s", "type": "nominal", "scale": {"domain": ["a", "g", "f", "b", "ar"], "range": ["#f77b45", "#3f9c5f", "#f5a42a", "#1414d2", "#f24b4b"]}, "legend": null}}},
     {"transform": [{"filter": "datum.ar == 1 && datum.grp == 'B'"}], "mark": {"type": "line", "strokeWidth": 0.6, "strokeDash": [1, 1]}, "encoding": {"color": {"field": "k", "type": "nominal", "scale": {"domain": ["a", "g", "f", "b", "ar"], "range": ["#f77b45", "#3f9c5f", "#f5a42a", "#1414d2", "#f24b4b"]}, "legend": null}}},
     {"transform": [{"filter": "datum.lab != null && datum.grp == 'B'"}], "mark": {"type": "text", "font": "Liberation Serif", "fontSize": 5.5}, "encoding": {"text": {"field": "lab", "type": "nominal"}, "color": {"field": "k", "type": "nominal", "scale": {"domain": ["a", "g", "f", "b", "ar"], "range": ["#f77b45", "#3f9c5f", "#f5a42a", "#1414d2", "#f24b4b"]}, "legend": null}}}
    ]},
   {"width": 69, "height": 77, "title": {"text": "⟨S²ₓ(t)S¹ₓ(0)⟩", "fontSize": 7, "offset": 3, "color": "#222"},
    "data": {"name": "d"}, "transform": [{"filter": "datum.r == 1 && datum.c == 2"}],
    "encoding": {"x": {"field": "t", "type": "quantitative", "scale": {"domain": [0, 5], "nice": false}, "axis": {"values": [0, 2, 4], "labels": false, "title": null}},
                 "y": {"field": "v", "type": "quantitative", "scale": {"domain": [-0.92, 1], "nice": false}, "axis": {"values": [-0.5, 0, 0.5, 1], "labels": false, "title": null}}},
    "layer": [
     {"transform": [{"filter": "datum.lab == null && datum.ar == null"}, {"fold": ["a", "f"], "as": ["s", "v"]}, {"filter": "isValid(datum.v)"}], "mark": {"type": "line", "strokeWidth": 1, "clip": true}, "encoding": {"color": {"field": "s", "type": "nominal", "scale": {"domain": ["a", "g", "f", "b", "ar"], "range": ["#f77b45", "#3f9c5f", "#f5a42a", "#1414d2", "#f24b4b"]}, "legend": null}, "strokeDash": {"field": "s", "type": "nominal", "scale": {"domain": ["a", "g", "f"], "range": [[3, 1.5], [1, 0], [1, 0]]}, "legend": null}}},
     {"transform": [{"filter": "datum.lab == null && datum.ar == null"}, {"fold": ["b"], "as": ["s", "v"]}], "mark": {"type": "line", "strokeWidth": 1.3, "clip": true, "point": {"size": 3, "filled": true}}, "encoding": {"color": {"field": "s", "type": "nominal", "scale": {"domain": ["a", "g", "f", "b", "ar"], "range": ["#f77b45", "#3f9c5f", "#f5a42a", "#1414d2", "#f24b4b"]}, "legend": null}}},
     {"transform": [{"filter": "datum.ar == 1 && datum.grp == 'B'"}], "mark": {"type": "line", "strokeWidth": 0.6, "strokeDash": [1, 1]}, "encoding": {"color": {"field": "k", "type": "nominal", "scale": {"domain": ["a", "g", "f", "b", "ar"], "range": ["#f77b45", "#3f9c5f", "#f5a42a", "#1414d2", "#f24b4b"]}, "legend": null}}},
     {"transform": [{"filter": "datum.lab != null && datum.grp == 'B'"}], "mark": {"type": "text", "font": "Liberation Serif", "fontSize": 5.5}, "encoding": {"text": {"field": "lab", "type": "nominal"}, "color": {"field": "k", "type": "nominal", "scale": {"domain": ["a", "g", "f", "b", "ar"], "range": ["#f77b45", "#3f9c5f", "#f5a42a", "#1414d2", "#f24b4b"]}, "legend": null}}}
    ]},
   {"width": 69, "height": 77, "title": {"text": "⟨S³ₓ(t)S¹ₓ(0)⟩", "fontSize": 7, "offset": 3, "color": "#222"},
    "data": {"name": "d"}, "transform": [{"filter": "datum.r == 1 && datum.c == 3"}],
    "encoding": {"x": {"field": "t", "type": "quantitative", "scale": {"domain": [0, 5], "nice": false}, "axis": {"values": [0, 2, 4], "labels": false, "title": null}},
                 "y": {"field": "v", "type": "quantitative", "scale": {"domain": [-0.92, 1], "nice": false}, "axis": {"values": [-0.5, 0, 0.5, 1], "labels": false, "title": null}}},
    "layer": [
     {"transform": [{"filter": "datum.lab == null && datum.ar == null"}, {"fold": ["a", "f"], "as": ["s", "v"]}, {"filter": "isValid(datum.v)"}], "mark": {"type": "line", "strokeWidth": 1, "clip": true}, "encoding": {"color": {"field": "s", "type": "nominal", "scale": {"domain": ["a", "g", "f", "b", "ar"], "range": ["#f77b45", "#3f9c5f", "#f5a42a", "#1414d2", "#f24b4b"]}, "legend": null}, "strokeDash": {"field": "s", "type": "nominal", "scale": {"domain": ["a", "g", "f"], "range": [[3, 1.5], [1, 0], [1, 0]]}, "legend": null}}},
     {"transform": [{"filter": "datum.lab == null && datum.ar == null"}, {"fold": ["b"], "as": ["s", "v"]}], "mark": {"type": "line", "strokeWidth": 1.3, "clip": true, "point": {"size": 3, "filled": true}}, "encoding": {"color": {"field": "s", "type": "nominal", "scale": {"domain": ["a", "g", "f", "b", "ar"], "range": ["#f77b45", "#3f9c5f", "#f5a42a", "#1414d2", "#f24b4b"]}, "legend": null}}}
    ]}
  ]},
  {"spacing": 1, "hconcat": [
   {"width": 69, "height": 77,
    "data": {"name": "d"}, "transform": [{"filter": "datum.r == 2 && datum.c == 1"}],
    "encoding": {"x": {"field": "t", "type": "quantitative", "scale": {"domain": [0, 5], "nice": false}, "axis": {"values": [0, 2, 4], "title": "|J|t"}},
                 "y": {"field": "v", "type": "quantitative", "scale": {"domain": [-0.92, 1], "nice": false}, "axis": {"values": [-0.5, 0, 0.5, 1], "format": ".1f", "title": "Im⟨S¹ₓ(t)S¹ₓ(0)⟩"}}},
    "layer": [
     {"transform": [{"filter": "datum.lab == null && datum.ar == null"}, {"fold": ["a", "f"], "as": ["s", "v"]}, {"filter": "isValid(datum.v)"}], "mark": {"type": "line", "strokeWidth": 1, "clip": true}, "encoding": {"color": {"field": "s", "type": "nominal", "scale": {"domain": ["a", "g", "f", "b", "ar"], "range": ["#f77b45", "#3f9c5f", "#f5a42a", "#1414d2", "#f24b4b"]}, "legend": null}, "strokeDash": {"field": "s", "type": "nominal", "scale": {"domain": ["a", "g", "f"], "range": [[3, 1.5], [1, 0], [1, 0]]}, "legend": null}}},
     {"transform": [{"filter": "datum.lab == null && datum.ar == null"}, {"fold": ["b"], "as": ["s", "v"]}], "mark": {"type": "line", "strokeWidth": 1.3, "clip": true, "point": {"size": 3, "filled": true}}, "encoding": {"color": {"field": "s", "type": "nominal", "scale": {"domain": ["a", "g", "f", "b", "ar"], "range": ["#f77b45", "#3f9c5f", "#f5a42a", "#1414d2", "#f24b4b"]}, "legend": null}}}
    ]},
   {"width": 69, "height": 77,
    "data": {"name": "d"}, "transform": [{"filter": "datum.r == 2 && datum.c == 2"}],
    "encoding": {"x": {"field": "t", "type": "quantitative", "scale": {"domain": [0, 5], "nice": false}, "axis": {"values": [0, 2, 4], "title": "|J|t"}},
                 "y": {"field": "v", "type": "quantitative", "scale": {"domain": [-0.92, 1], "nice": false}, "axis": {"values": [-0.5, 0, 0.5, 1], "labels": false, "title": null}}},
    "layer": [
     {"transform": [{"filter": "datum.lab == null && datum.ar == null"}, {"fold": ["a", "f"], "as": ["s", "v"]}, {"filter": "isValid(datum.v)"}], "mark": {"type": "line", "strokeWidth": 1, "clip": true}, "encoding": {"color": {"field": "s", "type": "nominal", "scale": {"domain": ["a", "g", "f", "b", "ar"], "range": ["#f77b45", "#3f9c5f", "#f5a42a", "#1414d2", "#f24b4b"]}, "legend": null}, "strokeDash": {"field": "s", "type": "nominal", "scale": {"domain": ["a", "g", "f"], "range": [[3, 1.5], [1, 0], [1, 0]]}, "legend": null}}},
     {"transform": [{"filter": "datum.lab == null && datum.ar == null"}, {"fold": ["b"], "as": ["s", "v"]}], "mark": {"type": "line", "strokeWidth": 1.3, "clip": true, "point": {"size": 3, "filled": true}}, "encoding": {"color": {"field": "s", "type": "nominal", "scale": {"domain": ["a", "g", "f", "b", "ar"], "range": ["#f77b45", "#3f9c5f", "#f5a42a", "#1414d2", "#f24b4b"]}, "legend": null}}},
     {"transform": [{"filter": "datum.ar == 1 && datum.grp == 'B'"}], "mark": {"type": "line", "strokeWidth": 0.6, "strokeDash": [1, 1]}, "encoding": {"color": {"field": "k", "type": "nominal", "scale": {"domain": ["a", "g", "f", "b", "ar"], "range": ["#f77b45", "#3f9c5f", "#f5a42a", "#1414d2", "#f24b4b"]}, "legend": null}}},
     {"transform": [{"filter": "datum.lab != null && datum.grp == 'B'"}], "mark": {"type": "text", "font": "Liberation Serif", "fontSize": 5.5}, "encoding": {"text": {"field": "lab", "type": "nominal"}, "color": {"field": "k", "type": "nominal", "scale": {"domain": ["a", "g", "f", "b", "ar"], "range": ["#f77b45", "#3f9c5f", "#f5a42a", "#1414d2", "#f24b4b"]}, "legend": null}}}
    ]},
   {"width": 69, "height": 77,
    "data": {"name": "d"}, "transform": [{"filter": "datum.r == 2 && datum.c == 3"}],
    "encoding": {"x": {"field": "t", "type": "quantitative", "scale": {"domain": [0, 5], "nice": false}, "axis": {"values": [0, 2, 4], "title": "|J|t"}},
                 "y": {"field": "v", "type": "quantitative", "scale": {"domain": [-0.92, 1], "nice": false}, "axis": {"values": [-0.5, 0, 0.5, 1], "labels": false, "title": null}}},
    "layer": [
     {"transform": [{"filter": "datum.lab == null && datum.ar == null"}, {"fold": ["a", "f"], "as": ["s", "v"]}, {"filter": "isValid(datum.v)"}], "mark": {"type": "line", "strokeWidth": 1, "clip": true}, "encoding": {"color": {"field": "s", "type": "nominal", "scale": {"domain": ["a", "g", "f", "b", "ar"], "range": ["#f77b45", "#3f9c5f", "#f5a42a", "#1414d2", "#f24b4b"]}, "legend": null}, "strokeDash": {"field": "s", "type": "nominal", "scale": {"domain": ["a", "g", "f"], "range": [[3, 1.5], [1, 0], [1, 0]]}, "legend": null}}},
     {"transform": [{"filter": "datum.lab == null && datum.ar == null"}, {"fold": ["b"], "as": ["s", "v"]}], "mark": {"type": "line", "strokeWidth": 1.3, "clip": true, "point": {"size": 3, "filled": true}}, "encoding": {"color": {"field": "s", "type": "nominal", "scale": {"domain": ["a", "g", "f", "b", "ar"], "range": ["#f77b45", "#3f9c5f", "#f5a42a", "#1414d2", "#f24b4b"]}, "legend": null}}}
    ]}
  ]}
 ]
}
]
}
